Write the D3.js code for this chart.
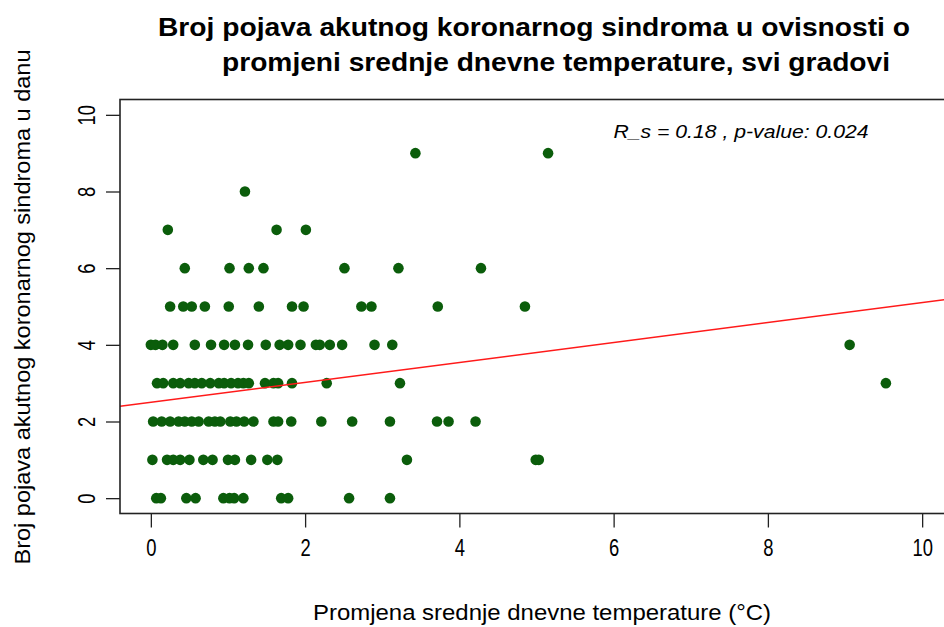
<!DOCTYPE html>
<html>
<head>
<meta charset="utf-8">
<script src="https://cdn.jsdelivr.net/npm/d3@7"></script>
<style>
  html, body { margin: 0; padding: 0; background: #fff; }
  svg { display: block; }
  text { font-family: "Liberation Sans", Arial, Helvetica, sans-serif; fill: #000; }
</style>
</head>
<body>
<svg id="chart" width="944" height="627"></svg>
<script>
// Daily change in mean temperature (°C) and number of acute coronary syndrome cases per day
const tempChange = [
  // 0 cases
  0.07, 0.13, 0.46, 0.58, 0.94, 1.02, 1.08, 1.20, 1.69, 1.78, 2.57, 3.10,
  // 1 case
  0.02, 0.21, 0.29, 0.38, 0.50, 0.68, 0.80, 1.00, 1.09, 1.30, 1.51, 1.64, 3.32, 4.99, 5.03,
  // 2 cases
  0.03, 0.14, 0.25, 0.36, 0.44, 0.53, 0.62, 0.75, 0.83, 0.90, 1.03, 1.11, 1.21, 1.33,
  1.59, 1.65, 1.82, 2.21, 2.61, 3.10, 3.71, 3.86, 4.21,
  // 3 cases
  0.08, 0.16, 0.29, 0.38, 0.49, 0.57, 0.66, 0.77, 0.88, 0.95, 1.04, 1.13, 1.20, 1.27,
  1.48, 1.59, 1.65, 1.83, 2.28, 3.23, 9.53,
  // 4 cases
  0.00, 0.06, 0.15, 0.29, 0.57, 0.78, 0.95, 1.09, 1.26, 1.49, 1.67, 1.78, 1.94, 2.14,
  2.19, 2.32, 2.48, 2.90, 3.13, 9.06,
  // 5 cases
  0.25, 0.42, 0.53, 0.70, 1.01, 1.40, 1.83, 1.98, 2.73, 2.86, 3.72, 4.85,
  // 6 cases
  0.44, 1.02, 1.27, 1.46, 2.51, 3.21, 4.28,
  // 7 cases
  0.22, 1.63, 2.01,
  // 8 cases
  1.22,
  // 9 cases
  3.43, 5.15
];
const caseCounts = [
  0,0,0,0,0,0,0,0,0,0,0,0,
  1,1,1,1,1,1,1,1,1,1,1,1,1,1,1,
  2,2,2,2,2,2,2,2,2,2,2,2,2,2,2,2,2,2,2,2,2,2,2,
  3,3,3,3,3,3,3,3,3,3,3,3,3,3,3,3,3,3,3,3,3,
  4,4,4,4,4,4,4,4,4,4,4,4,4,4,4,4,4,4,4,4,
  5,5,5,5,5,5,5,5,5,5,5,5,
  6,6,6,6,6,6,6,
  7,7,7,
  8,
  9,9
];

// Linear fit (intercept, slope)
const fitCoef = [2.50, 0.26];

const xTicks = [0, 2, 4, 6, 8, 10];
const yTicks = [0, 2, 4, 6, 8, 10];

const titleLines = [
  "Broj pojava akutnog koronarnog sindroma u ovisnosti o",
  "promjeni srednje dnevne temperature, svi gradovi"
];
const xLabel = "Promjena srednje dnevne temperature (°C)";
const yLabel = "Broj pojava akutnog koronarnog sindroma u danu";
const statText = "R_s = 0.18 , p-value: 0.024";

const svg = d3.select("#chart");

// plotting region
const plot = { left: 120, right: 953, top: 99.5, bottom: 513.5 };

const x = d3.scaleLinear().domain([-0.4, 10.4]).range([plot.left, plot.right]);
const y = d3.scaleLinear().domain([-0.4, 10.4]).range([plot.bottom, plot.top]);

svg.append("clipPath").attr("id", "plotClip")
  .append("rect")
  .attr("x", plot.left).attr("y", plot.top)
  .attr("width", plot.right - plot.left).attr("height", plot.bottom - plot.top);

// points
const pts = tempChange.map((t, i) => ({ t, n: caseCounts[i] }));
svg.append("g")
  .selectAll("circle")
  .data(pts)
  .join("circle")
  .attr("cx", d => x(d.t))
  .attr("cy", d => y(d.n))
  .attr("r", 5.3)
  .attr("fill", "#0b5d0b");

// regression line
const [b0, b1] = fitCoef;
svg.append("line")
  .attr("clip-path", "url(#plotClip)")
  .attr("x1", x(-0.4)).attr("y1", y(b0 + b1 * -0.4))
  .attr("x2", x(10.4)).attr("y2", y(b0 + b1 * 10.4))
  .attr("stroke", "#ff1a1a")
  .attr("stroke-width", 1.5);

// frame
svg.append("rect")
  .attr("x", plot.left).attr("y", plot.top)
  .attr("width", plot.right - plot.left).attr("height", plot.bottom - plot.top)
  .attr("fill", "none")
  .attr("stroke", "#222")
  .attr("stroke-width", 1.6);

// x axis
const xAxis = svg.append("g")
  .attr("transform", `translate(0,${plot.bottom})`)
  .call(d3.axisBottom(x).tickValues(xTicks).tickSize(14).tickFormat(d3.format("d")));
xAxis.select(".domain").remove();
xAxis.selectAll(".tick line").attr("stroke", "#222").attr("stroke-width", 1.3);
xAxis.selectAll(".tick text")
  .attr("y", null).attr("dy", null)
  .attr("transform", "translate(0,34) scale(0.8,1)")
  .attr("text-anchor", "middle")
  .attr("dominant-baseline", "central")
  .style("font-family", "'Liberation Sans', Arial, sans-serif")
  .style("font-size", "23px")
  .attr("fill", "#000");

// y axis
const yAxis = svg.append("g")
  .attr("transform", `translate(${plot.left},0)`)
  .call(d3.axisLeft(y).tickValues(yTicks).tickSize(14).tickFormat(d3.format("d")));
yAxis.select(".domain").remove();
yAxis.selectAll(".tick line").attr("stroke", "#222").attr("stroke-width", 1.3);
yAxis.selectAll(".tick text")
  .attr("x", null).attr("dy", null)
  .attr("transform", "translate(-33,0) rotate(-90) scale(0.8,1)")
  .attr("text-anchor", "middle")
  .attr("dominant-baseline", "central")
  .style("font-family", "'Liberation Sans', Arial, sans-serif")
  .style("font-size", "23px")
  .attr("fill", "#000");

// title
const titleSpecs = [
  { cx: 534, y: 36, len: 752 },
  { cx: 556, y: 71, len: 668 }
];
svg.append("g").selectAll("text")
  .data(titleLines)
  .join("text")
  .attr("x", (d, i) => titleSpecs[i].cx)
  .attr("y", (d, i) => titleSpecs[i].y)
  .attr("text-anchor", "middle")
  .attr("textLength", (d, i) => titleSpecs[i].len)
  .attr("lengthAdjust", "spacingAndGlyphs")
  .style("font-size", "26px")
  .style("font-weight", "bold")
  .text(d => d);

// axis titles
svg.append("text")
  .attr("x", 542).attr("y", 620)
  .attr("text-anchor", "middle")
  .attr("textLength", 458)
  .attr("lengthAdjust", "spacingAndGlyphs")
  .style("font-size", "22px")
  .text(xLabel);

svg.append("text")
  .attr("transform", "translate(30,307) rotate(-90)")
  .attr("text-anchor", "middle")
  .attr("textLength", 515)
  .attr("lengthAdjust", "spacingAndGlyphs")
  .style("font-size", "22px")
  .text(yLabel);

// correlation annotation
svg.append("text")
  .attr("x", 741).attr("y", 138)
  .attr("text-anchor", "middle")
  .attr("textLength", 255)
  .attr("lengthAdjust", "spacingAndGlyphs")
  .style("font-size", "18px")
  .style("font-style", "italic")
  .text(statText);
</script>
</body>
</html>
